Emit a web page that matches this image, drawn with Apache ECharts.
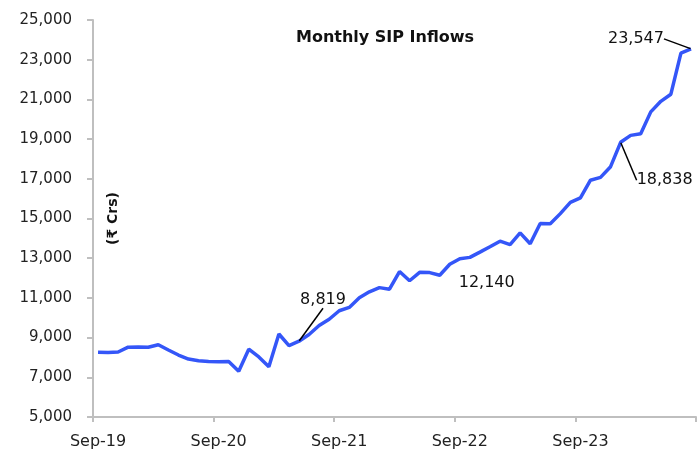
<!DOCTYPE html>
<html>
<head>
<meta charset="utf-8">
<script src="https://cdn.jsdelivr.net/npm/echarts@6/dist/echarts.min.js"></script>
<style>
  html, body { margin: 0; padding: 0; background: #fff; }
  #main { width: 698px; height: 458px; }
</style>
</head>
<body>
<div id="main"></div>
<script>
// months Sep-19 .. Aug-24
const yearLabels = ['Sep-19', 'Sep-20', 'Sep-21', 'Sep-22', 'Sep-23'];
const startYear = 2019;
const startMonth = 8; // 0 based, Sep

// monthly SIP inflows, Rs crore
const sipValues = [
    8263, 8246, 8273, 8518, 8532, 8513, 8641, 8376, 8123, 7917, 7831, 7792,
    7788, 7800, 7302, 8418, 8023, 7528, 9182, 8596, 8819, 9156, 9609, 9923,
    10351, 10519, 11005, 11305, 11517, 11438, 12328, 11863, 12286, 12276, 12140, 12693,
    12976, 13041, 13306, 13573, 13856, 13686, 14276, 13728, 14749, 14734, 15245, 15814,
    16042, 16928, 17073, 17610, 18838, 19187, 19271, 20371, 20904, 21262, 23332, 23547
];

// points that get a callout, and which of them get a leader line
const calloutIdx = [20, 34, 52, 59];
const leaderIdx = [20, 52, 59];
// label offset from the point
const calloutShift = {20: [24, -41], 34: [47, 8], 52: [44, 38], 59: [-55, -10]};

const monthNames = ['Jan','Feb','Mar','Apr','May','Jun','Jul','Aug','Sep','Oct','Nov','Dec'];
let categories = sipValues.map((v, i) => {
    let m = startMonth + i;
    let y = startYear + Math.floor(m / 12);
    return monthNames[m % 12] + '-' + String(y).slice(2);
});

const fmt = v => v.toLocaleString('en-US');
const FONT = 'DejaVu Sans';

let seriesData = sipValues.map((v, i) => {
    if (calloutIdx.indexOf(i) < 0) return v;
    return {
        value: v,
        symbol: 'circle',
        symbolSize: 1,
        itemStyle: {color: 'rgba(0,0,0,0)'},
        label: {
            show: true,
            formatter: fmt(v),
            position: 'inside',
            fontSize: 16,
            color: '#111',
            fontFamily: FONT
        },
        labelLine: {show: leaderIdx.indexOf(i) >= 0}
    };
});

let myChart = echarts.init(document.getElementById('main'));
let option = {
    backgroundColor: '#ffffff',
    animation: false,
    title: {
        text: 'Monthly SIP Inflows',
        left: 291,
        top: 25,
        textStyle: {fontSize: 16, fontWeight: 'bold', color: '#111', fontFamily: FONT}
    },
    grid: {left: 93, right: 2, top: 20, bottom: 41, containLabel: false, outerBoundsMode: 'none'},
    xAxis: {
        type: 'category',
        data: categories,
        boundaryGap: true,
        axisLine: {lineStyle: {color: '#bfbfbf', width: 2}},
        axisTick: {show: true, interval: 11, length: 5, lineStyle: {color: '#bfbfbf', width: 2}},
        axisLabel: {
            interval: 11,
            margin: 17,
            fontSize: 16,
            color: '#222',
            fontFamily: FONT,
            formatter: (val, i) => yearLabels[i / 12] || ''
        },
        splitLine: {show: false}
    },
    yAxis: {
        type: 'value',
        min: 5000,
        max: 25000,
        interval: 2000,
        name: '(₹ Crs)',
        nameLocation: 'middle',
        nameRotate: 90,
        nameGap: -27,
        nameMoveOverlap: false,
        nameTextStyle: {fontSize: 14, fontWeight: 'bold', color: '#111', fontFamily: FONT},
        axisLine: {show: true, lineStyle: {color: '#bfbfbf', width: 2}},
        axisTick: {show: true, inside: false, length: 6, lineStyle: {color: '#bfbfbf', width: 2}},
        axisLabel: {margin: 21, fontSize: 15, color: '#222', fontFamily: FONT, formatter: v => fmt(v)},
        splitLine: {show: false}
    },
    series: [{
        type: 'line',
        data: seriesData,
        symbol: 'none',
        lineStyle: {color: '#3456f8', width: 3.5},
        labelLine: {lineStyle: {color: '#000', width: 1.5}, smooth: false},
        labelLayout: function (p) {
            let s = calloutShift[p.dataIndex];
            if (!s) return {};
            return {dx: s[0], dy: s[1]};
        }
    }]
};
myChart.setOption(option);
</script>
</body>
</html>
